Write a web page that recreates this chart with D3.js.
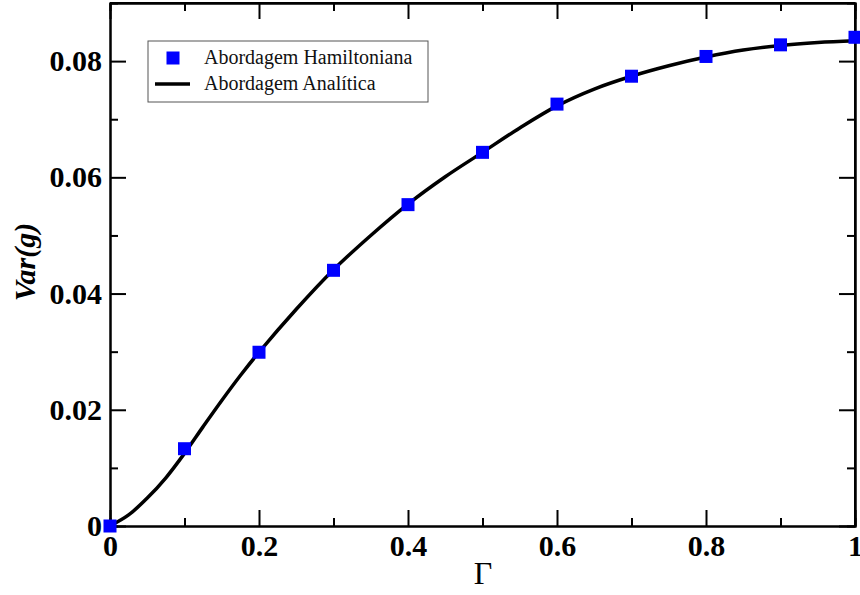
<!DOCTYPE html>
<html>
<head>
<meta charset="utf-8">
<script src="https://cdn.jsdelivr.net/npm/d3@7"></script>
<style>
  body { margin: 0; background: #fff; }
  svg { display: block; }
</style>
</head>
<body>
<div id="chart"></div>
<script>

// data
const gammaPts = [0, 0.1, 0.2, 0.3, 0.4, 0.5, 0.6, 0.7, 0.8, 0.9, 1.0];
const varHamilton = [0, 0.0133, 0.0299, 0.0440, 0.0553, 0.0643, 0.0726, 0.0774, 0.0808, 0.0828, 0.0841];

const gammaCurve = [0, 0.025, 0.05, 0.075, 0.1, 0.125, 0.15, 0.175, 0.2, 0.25, 0.3, 0.35, 0.4,
    0.45, 0.5, 0.55, 0.6, 0.65, 0.7, 0.75, 0.8, 0.85, 0.9, 0.95, 1.0];
const varAnalytic = [0, 0.0019, 0.0048, 0.0083, 0.0125, 0.0171, 0.0216, 0.0259, 0.0299, 0.0373, 0.0441,
    0.0500, 0.0554, 0.0601, 0.0643, 0.0685, 0.0723, 0.0752, 0.0774, 0.0792, 0.0807, 0.0819, 0.0827,
    0.0832, 0.0835];

const xMajor = [0, 0.2, 0.4, 0.6, 0.8, 1];
const xMinor = [0.1, 0.3, 0.5, 0.7, 0.9];
const yMajor = [0, 0.02, 0.04, 0.06, 0.08];
const yMinor = [0.01, 0.03, 0.05, 0.07];
const legendLabels = ["Abordagem Hamiltoniana", "Abordagem Analítica"];

let W = 860, H = 595;
let margin = {top: 3, right: 5, bottom: 69, left: 110};
let width = W - margin.left - margin.right;
let height = H - margin.top - margin.bottom;

let svg = d3.select("#chart").append("svg")
    .attr("width", W)
    .attr("height", H);

let g = svg.append("g")
    .attr("transform", "translate(" + margin.left + "," + margin.top + ")");

let x = d3.scaleLinear().domain([0, 1]).range([0, width]);
let y = d3.scaleLinear().domain([0, 0.09]).range([height, 0]);

const fontTick = "'Liberation Serif', 'Times New Roman', serif";
let fmt = d3.format("~g");

// axes, ticks pointing inwards on all four sides
function styleAxis(sel) {
    sel.select(".domain").attr("stroke", "#000").attr("stroke-width", 2);
    sel.selectAll(".tick line").attr("stroke", "#000").attr("stroke-width", 2);
}

let xb = g.append("g").attr("transform", "translate(0," + height + ")")
    .call(d3.axisBottom(x).tickValues(xMajor).tickSizeInner(-16).tickSizeOuter(0).tickPadding(9).tickFormat(fmt));
xb.call(styleAxis);
xb.selectAll("text")
    .attr("font-family", fontTick).attr("font-size", 30).attr("font-weight", "bold").attr("fill", "#000");

g.append("g").attr("transform", "translate(0," + height + ")")
    .call(d3.axisBottom(x).tickValues(xMinor).tickSize(-8).tickFormat(""))
    .call(styleAxis);

let xt = g.append("g")
    .call(d3.axisTop(x).tickValues(xMajor).tickSizeInner(-16).tickSizeOuter(0).tickFormat(""));
xt.call(styleAxis);
g.append("g")
    .call(d3.axisTop(x).tickValues(xMinor).tickSize(-8).tickFormat(""))
    .call(styleAxis);

let yl = g.append("g")
    .call(d3.axisLeft(y).tickValues(yMajor).tickSizeInner(-16).tickSizeOuter(0).tickPadding(8).tickFormat(fmt));
yl.call(styleAxis);
yl.selectAll("text")
    .attr("font-family", fontTick).attr("font-size", 30).attr("font-weight", "bold").attr("fill", "#000");

g.append("g")
    .call(d3.axisLeft(y).tickValues(yMinor).tickSize(-8).tickFormat(""))
    .call(styleAxis);

let yr = g.append("g").attr("transform", "translate(" + width + ",0)")
    .call(d3.axisRight(y).tickValues(yMajor).tickSizeInner(-16).tickSizeOuter(0).tickFormat(""));
yr.call(styleAxis);
g.append("g").attr("transform", "translate(" + width + ",0)")
    .call(d3.axisRight(y).tickValues(yMinor).tickSize(-8).tickFormat(""))
    .call(styleAxis);

// top / right frame edges at full height
g.append("line").attr("x1", 0).attr("x2", width).attr("y1", 0).attr("y2", 0)
    .attr("stroke", "#000").attr("stroke-width", 2);
g.append("line").attr("x1", width).attr("x2", width).attr("y1", 0).attr("y2", height)
    .attr("stroke", "#000").attr("stroke-width", 2);

// analytic curve
let curveData = gammaCurve.map((d, i) => ({x: d, y: varAnalytic[i]}));
let line = d3.line()
    .x(d => x(d.x))
    .y(d => y(d.y))
    .curve(d3.curveCatmullRom);

g.append("path")
    .datum(curveData)
    .attr("d", line)
    .attr("fill", "none")
    .attr("stroke", "#000")
    .attr("stroke-width", 3.5);

// hamiltonian squares
let sq = 13;
g.selectAll(".pt")
    .data(gammaPts.map((d, i) => ({x: d, y: varHamilton[i]})))
    .enter().append("rect")
    .attr("class", "pt")
    .attr("x", d => x(d.x) - sq / 2)
    .attr("y", d => y(d.y) - sq / 2)
    .attr("width", sq)
    .attr("height", sq)
    .attr("fill", "#0000ff");

// axis titles
svg.append("text")
    .attr("x", 483).attr("y", 584)
    .attr("text-anchor", "middle")
    .attr("font-family", fontTick)
    .attr("font-size", 32)
    .text("Γ");

svg.append("text")
    .attr("transform", "translate(35,262) rotate(-90)")
    .attr("text-anchor", "middle")
    .attr("font-family", fontTick)
    .attr("font-size", 30)
    .attr("font-weight", "bold")
    .attr("font-style", "italic")
    .text("Var(g)");

// legend
let leg = svg.append("g").attr("transform", "translate(148,41)");
leg.append("rect")
    .attr("width", 280).attr("height", 61)
    .attr("fill", "#fff")
    .attr("stroke", "#555").attr("stroke-width", 1);

leg.append("rect")
    .attr("x", 25 - sq / 2).attr("y", 17 - sq / 2)
    .attr("width", sq).attr("height", sq)
    .attr("fill", "#0000ff");
leg.append("line")
    .attr("x1", 7).attr("x2", 42).attr("y1", 43).attr("y2", 43)
    .attr("stroke", "#000").attr("stroke-width", 3.5);

leg.selectAll(".lt")
    .data(legendLabels)
    .enter().append("text")
    .attr("class", "lt")
    .attr("x", 56)
    .attr("y", (d, i) => 23 + i * 26)
    .attr("font-family", fontTick)
    .attr("font-size", 20)
    .attr("fill", "#111")
    .text(d => d);

</script>
</body>
</html>
